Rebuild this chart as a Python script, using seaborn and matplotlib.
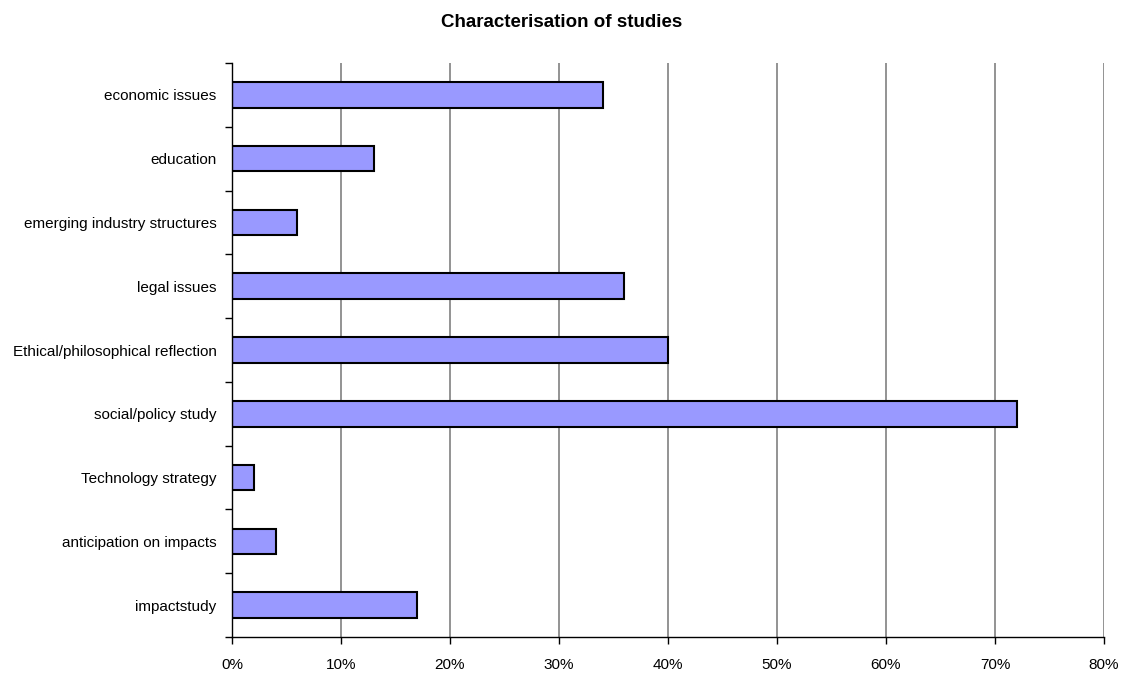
import matplotlib
matplotlib.use("Agg")
import matplotlib.pyplot as plt
from matplotlib.ticker import FixedLocator, PercentFormatter
import pandas as pd
import seaborn as sns

categories = [
    "economic issues",
    "education",
    "emerging industry structures",
    "legal issues",
    "Ethical/philosophical reflection",
    "social/policy study",
    "Technology strategy",
    "anticipation on impacts",
    "impactstudy",
]
shares = [34, 13, 6, 36, 40, 72, 2, 4, 17]
x_ticks = [0, 10, 20, 30, 40, 50, 60, 70, 80]

df = pd.DataFrame({"category": categories, "share": shares})

sns.set_style("white")
plt.rcParams["font.family"] = ["Liberation Sans", "DejaVu Sans"]
plt.rcParams["text.color"] = "black"
plt.rcParams["xtick.color"] = "black"
plt.rcParams["ytick.color"] = "black"

fig = plt.figure(figsize=(11.24, 6.74), dpi=100)
ax = fig.add_axes([0.2064, 0.0549, 0.7758, 0.8516])

sns.barplot(data=df, x="share", y="category", color="#9999FF",
            saturation=1, width=0.4, edgecolor="black", linewidth=1.5, ax=ax)

ax.set_xlim(0, 80)
ax.set_ylim(len(categories) - 0.5, -0.5)
ax.xaxis.set_major_locator(FixedLocator(x_ticks))
ax.xaxis.set_major_formatter(PercentFormatter(decimals=0))
ax.grid(axis="x", color="#808080", linewidth=1.2)
ax.set_axisbelow(True)

ax.yaxis.set_minor_locator(FixedLocator([i - 0.5 for i in range(len(categories) + 1)]))
ax.tick_params(axis="y", which="major", length=0, pad=11, labelsize=11, labelcolor="black")
ax.tick_params(axis="y", which="minor", left=True, length=5, width=1, color="black")
ax.tick_params(axis="x", which="major", bottom=True, length=5, width=1, color="black",
               pad=10, labelsize=11, labelcolor="black")

for side in ["top", "right"]:
    ax.spines[side].set_visible(False)
for side in ["left", "bottom"]:
    ax.spines[side].set_color("black")
    ax.spines[side].set_linewidth(1)

ax.set_xlabel("")
ax.set_ylabel("")
fig.suptitle("Characterisation of studies", fontsize=13.5, fontweight="bold",
             y=0.966, va="center", color="black")

fig.savefig("out.png", dpi=100)
